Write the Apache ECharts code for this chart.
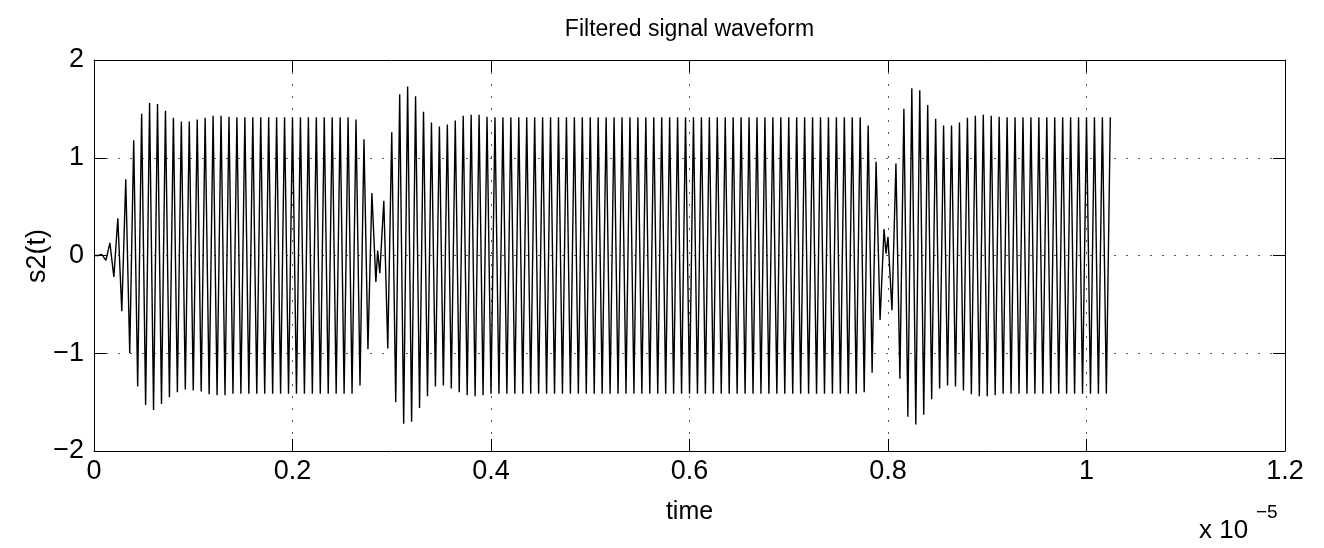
<!DOCTYPE html>
<html>
<head>
<meta charset="utf-8">
<title>Filtered signal waveform</title>
<script src="https://cdn.jsdelivr.net/npm/echarts@6/dist/echarts.min.js"></script>
<style>
  html, body { margin: 0; padding: 0; background: #fff; }
  #chart { width: 1324px; height: 548px; }
</style>
</head>
<body>
<div id="chart"></div>
<script>
// samples are half a carrier cycle apart (12.5 MHz carrier)
const sampleStep = 4e-8;
const steadyAmp = 1.415;

// start-up burst, samples k = 0..34
const burstStart = [0, 0, 0.01, -0.05, 0.13, -0.22, 0.38, -0.57, 0.78, -1.00,
  1.18, -1.34, 1.45, -1.53, 1.56, -1.58, 1.55, -1.52, 1.48, -1.45,
  1.41, -1.40, 1.37, -1.37, 1.37, -1.38, 1.39, -1.39, 1.41, -1.42,
  1.43, -1.43, 1.43, -1.43, 1.42];
// first phase flip, samples k = 66..99
const burstFlip1 = [1.39, -1.33, 1.19, -0.96, 0.64, -0.27, -0.18, 0.56, -0.95, 1.26,
  -1.50, 1.65, -1.72, 1.73, -1.70, 1.63, -1.56, 1.47, -1.44, 1.36,
  -1.34, 1.32, -1.33, 1.34, -1.36, 1.38, -1.40, 1.43, -1.43, 1.44,
  -1.44, 1.44, -1.43, 1.42];
// second phase flip, samples k = 194..228
const burstFlip2 = [-1.40, 1.33, -1.20, 0.96, -0.66, 0.27, 0.19, -0.56, 0.94, -1.26,
  1.50, -1.65, 1.71, -1.73, 1.69, -1.63, 1.54, -1.47, 1.40, -1.36,
  1.33, -1.33, 1.33, -1.34, 1.36, -1.38, 1.41, -1.42, 1.43, -1.44,
  1.44, -1.44, 1.43, -1.43, 1.42];
// number of steady samples after each burst (each run starts negative)
const steadyRuns = [31, 94, 28];
// small wiggles between samples at the flips: [sample position, value]
const wiggles = [[71.45, 0.05], [199.5, 0.02]];

const xTicks = ['0', '0.2', '0.4', '0.6', '0.8', '1', '1.2'];
const yTicks = ['\u22122', '\u22121', '0', '1', '2'];

function steady(n) {
  const out = [];
  for (let i = 0; i < n; i++) out.push((i % 2 === 0 ? -1 : 1) * steadyAmp);
  return out;
}

const samples = [].concat(burstStart, steady(steadyRuns[0]), burstFlip1,
  steady(steadyRuns[1]), burstFlip2, steady(steadyRuns[2]));
const lineData = samples.map((v, k) => [k * sampleStep, v]);
wiggles.forEach(w => lineData.push([w[0] * sampleStep, w[1]]));
lineData.sort((a, b) => a[0] - b[0]);

const font = '"Liberation Sans", Arial, Helvetica, sans-serif';
const tickLen = 12;

var chartDom = document.getElementById('chart');
var myChart = echarts.init(chartDom, null, { renderer: 'canvas' });
var option;

option = {
  animation: false,
  backgroundColor: '#fff',
  grid: {
    left: 94,
    right: 39,
    top: 60,
    bottom: 97,
    containLabel: false,
    outerBoundsMode: 'none'
  },
  xAxis: [
    {
      type: 'value',
      min: 0,
      max: 1.2e-5,
      interval: 2e-6,
      axisLine: { onZero: false, lineStyle: { color: '#000', width: 1 } },
      axisTick: { inside: true, length: tickLen, lineStyle: { color: '#000' } },
      axisLabel: {
        color: '#000',
        fontFamily: font,
        fontSize: 27,
        margin: 7,
        formatter: function (v) { return xTicks[Math.round(v / 2e-6)]; }
      },
      splitLine: { show: true, lineStyle: { color: '#555', type: [2, 10], width: 1 } }
    },
    {
      type: 'value',
      position: 'top',
      min: 0,
      max: 1.2e-5,
      interval: 2e-6,
      axisLine: { onZero: false, lineStyle: { color: '#000', width: 1 } },
      axisTick: { inside: true, length: tickLen, lineStyle: { color: '#000' } },
      axisLabel: { show: false },
      splitLine: { show: false }
    }
  ],
  yAxis: [
    {
      type: 'value',
      min: -2,
      max: 2,
      interval: 1,
      axisLine: { onZero: false, lineStyle: { color: '#000', width: 1 } },
      axisTick: { inside: true, length: tickLen, lineStyle: { color: '#000' } },
      axisLabel: {
        color: '#000',
        fontFamily: font,
        fontSize: 27,
        margin: 10,
        formatter: function (v) { return yTicks[Math.round(v) + 2]; }
      },
      splitLine: { show: true, lineStyle: { color: '#555', type: [2, 10], width: 1 } }
    },
    {
      type: 'value',
      position: 'right',
      min: -2,
      max: 2,
      interval: 1,
      axisLine: { onZero: false, lineStyle: { color: '#000', width: 1 } },
      axisTick: { inside: true, length: tickLen, lineStyle: { color: '#000' } },
      axisLabel: { show: false },
      splitLine: { show: false }
    }
  ],
  graphic: [
    {
      type: 'text', x: 689.5, y: 30,
      style: { text: 'Filtered signal waveform', fontFamily: font, fontSize: 23,
        fill: '#000', align: 'center', verticalAlign: 'middle' }
    },
    {
      type: 'text', x: 689.5, y: 512,
      style: { text: 'time', fontFamily: font, fontSize: 25,
        fill: '#000', align: 'center', verticalAlign: 'middle' }
    },
    {
      type: 'text', x: 38, y: 256, rotation: Math.PI / 2,
      style: { text: 's2(t)', fontFamily: font, fontSize: 27,
        fill: '#000', align: 'center', verticalAlign: 'middle' }
    },
    {
      type: 'text', x: 1199, y: 531,
      style: { text: 'x 10', fontFamily: font, fontSize: 26,
        fill: '#000', align: 'left', verticalAlign: 'middle' }
    },
    {
      type: 'text', x: 1256, y: 513,
      style: { text: '\u22125', fontFamily: font, fontSize: 19,
        fill: '#000', align: 'left', verticalAlign: 'middle' }
    }
  ],
  series: [
    {
      name: 's2(t)',
      type: 'line',
      xAxisIndex: 0,
      yAxisIndex: 0,
      showSymbol: false,
      symbol: 'none',
      sampling: null,
      lineStyle: { color: '#000', width: 1.4 },
      data: lineData
    }
  ]
};

option && myChart.setOption(option);
</script>
</body>
</html>
